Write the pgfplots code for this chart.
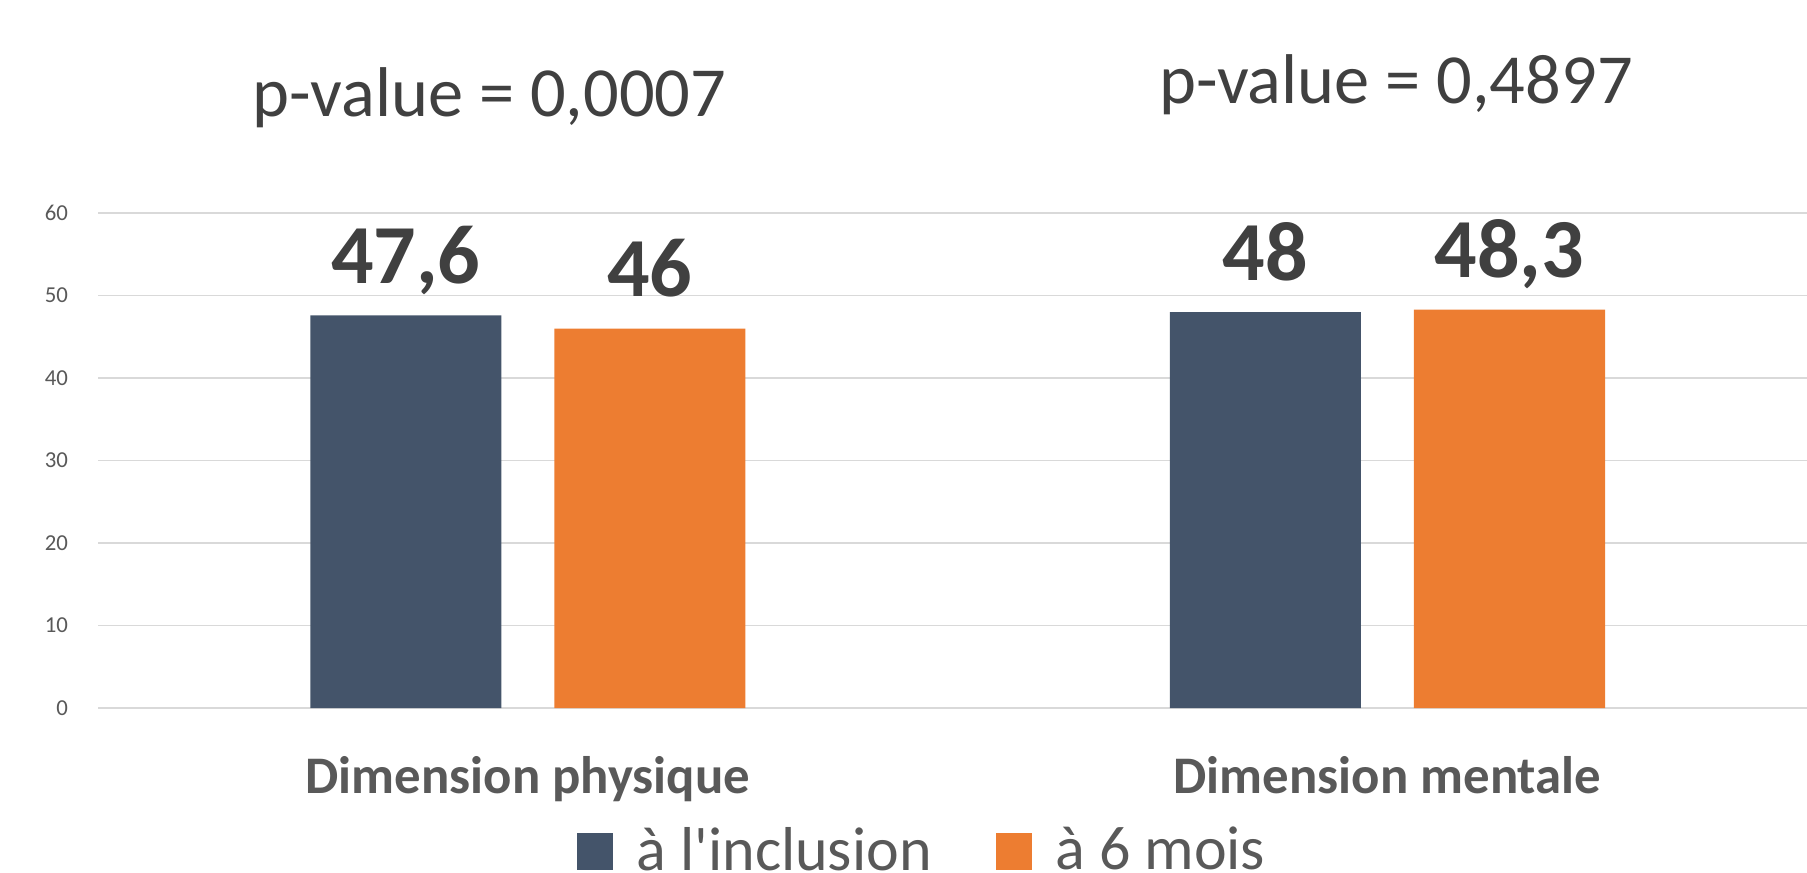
\documentclass[border=0pt]{standalone}
\usepackage{pgfplots}
\pgfplotsset{compat=1.18}
\usepackage{fontspec}
\setmainfont{Carlito}[Ligatures=TeXOff]
\definecolor{slate}{HTML}{44546A}
\definecolor{orng}{HTML}{ED7D31}
\definecolor{txtdark}{HTML}{404040}
\definecolor{txtgrey}{HTML}{595959}
\definecolor{gridc}{HTML}{D9D9D9}
\pgfplotsset{sqlegend/.style={legend image code/.code={\fill[##1] (0bp,-4.6bp) rectangle (9bp,4.6bp);}}}
\begin{document}
\begin{tikzpicture}
\path[use as bounding box] (-24.5bp,-41.25bp) rectangle (427.25bp,177bp);
\begin{axis}[
  at={(0,0)}, anchor=south west,
  scale only axis, width=427.25bp, height=123.75bp,
  xmin=-0.5, xmax=1.488, ymin=0, ymax=60,
  xtick={0,1}, xticklabels={Dimension physique, Dimension mentale},
  ytick={0,10,...,60},
  ymajorgrids, grid style={gridc, line width=0.45bp},
  axis line style={draw=none},
  major tick length=0pt,
  tick style={draw=none},
  /pgf/number format/assume math mode=true,
  yticklabel style={font=\fontsize{5.7bp}{6bp}\selectfont, text=txtgrey, anchor=east, xshift=-4bp},
  xticklabel style={font=\fontsize{13.2bp}{14bp}\selectfont\bfseries, text=txtgrey, anchor=base, yshift=-21.25bp},
  ybar, bar width=47.75bp,
  point meta=explicit symbolic,
  nodes near coords,
  every node near coord/.append style={font=\fontsize{21bp}{22bp}\selectfont\bfseries, text=txtdark, anchor=base, yshift=8bp},
  legend columns=2,
  legend style={draw=none, at={(0.484,-0.29)}, anchor=center, font=\fontsize{15.5bp}{16bp}\selectfont, text=txtgrey,
    /tikz/every odd column/.append style={column sep=3.9bp},
    /tikz/every even column/.append style={column sep=14bp}},
  clip=false,
]
\addplot[fill=slate, draw=none, bar shift=-30.5bp, sqlegend] coordinates {(0,47.6) [{47,6}] (1,48) [48]};
\addplot[fill=orng, draw=none, bar shift=30.5bp, sqlegend] coordinates {(0,46) [46] (1,48.3) [{48,3}]};
\legend{à l'inclusion, à 6 mois}
\end{axis}
\node[anchor=base, font=\fontsize{17.6bp}{18bp}\selectfont, text=txtdark] at (97.9bp,147.75bp) {p-value = 0,0007};
\node[anchor=base, font=\fontsize{17.6bp}{18bp}\selectfont, text=txtdark] at (324.5bp,151bp) {p-value = 0,4897};
\end{tikzpicture}
\end{document}
